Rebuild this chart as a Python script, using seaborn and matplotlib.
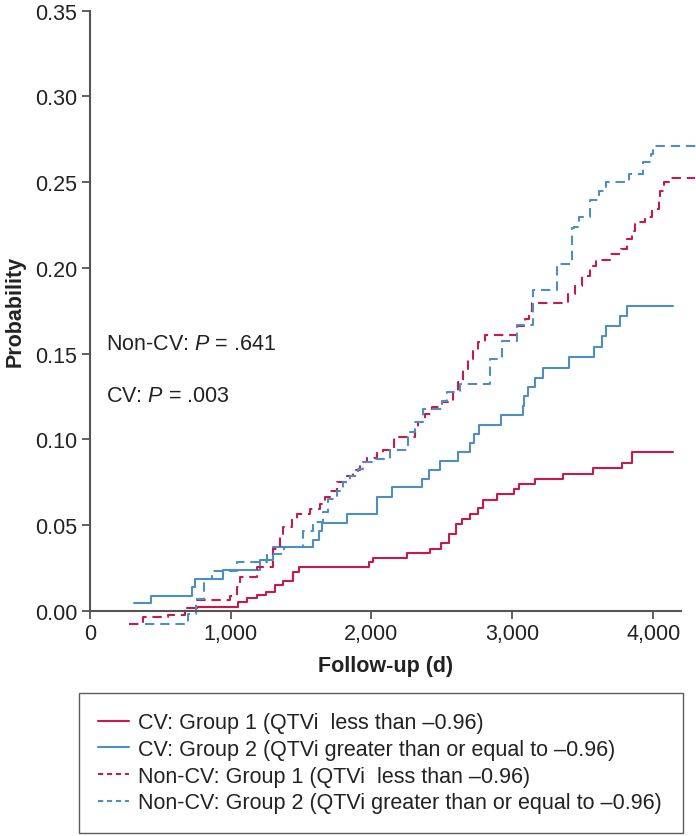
import numpy as np
import pandas as pd
import matplotlib
matplotlib.use("Agg")
import matplotlib.pyplot as plt
from matplotlib.lines import Line2D
from matplotlib.ticker import FuncFormatter
import seaborn as sns

# ---- data (step curves: day of change, cumulative probability) ----
cv1_days = [688, 764, 1055, 1114, 1185, 1251, 1315, 1370, 1445, 1488, 1985, 2009,
            2250, 2416, 2494, 2551, 2598, 2646, 2700, 2759, 2790, 2890, 3013, 3046,
            3162, 3358, 3569, 3780, 3849, 4144]
cv1_prob = [0.0014, 0.0024, 0.0049, 0.0072, 0.0092, 0.0107, 0.0150, 0.0175, 0.0228,
            0.0253, 0.0282, 0.0306, 0.0339, 0.0362, 0.0393, 0.0447, 0.0506, 0.0535,
            0.0564, 0.0597, 0.0648, 0.0681, 0.0710, 0.0737, 0.0768, 0.0798, 0.0831,
            0.0860, 0.0924, 0.0924]

cv2_days = [316, 435, 723, 747, 948, 1209, 1303, 1583, 1630, 1651, 1825, 2037, 2149,
            2357, 2409, 2489, 2613, 2700, 2731, 2766, 2918, 3074, 3084, 3110, 3164,
            3221, 3403, 3581, 3635, 3666, 3761, 3815, 4144]
cv2_prob = [0.0043, 0.0088, 0.0136, 0.0185, 0.0236, 0.0296, 0.0370, 0.0414, 0.0465,
            0.0514, 0.0564, 0.0665, 0.0720, 0.0768, 0.0823, 0.0875, 0.0928, 0.0978,
            0.1031, 0.1083, 0.1142, 0.1196, 0.1254, 0.1303, 0.1360, 0.1418, 0.1482,
            0.1540, 0.1604, 0.1661, 0.1721, 0.1780, 0.1780]

ncv1_days = [281, 380, 558, 676, 759, 996, 1043, 1067, 1185, 1300, 1351, 1375, 1434,
             1474, 1564, 1635, 1670, 1706, 1753, 1825, 1872, 1919, 1966, 2037, 2085,
             2161, 2310, 2333, 2381, 2428, 2499, 2582, 2617, 2653, 2688, 2719, 2759,
             2807, 3032, 3091, 3115, 3139, 3398, 3446, 3493, 3548, 3595, 3695, 3770,
             3817, 3849, 3872, 3943, 3991, 4038, 4050, 4078, 4109, 4300]
ncv1_prob = [-0.0078, -0.0039, -0.0023, 0.0014, 0.0062, 0.0088, 0.0137, 0.0198, 0.0253,
             0.0360, 0.0438, 0.0486, 0.0535, 0.0564, 0.0593, 0.0622, 0.0662, 0.0700,
             0.0749, 0.0788, 0.0823, 0.0866, 0.0890, 0.0920, 0.0940, 0.1011, 0.1060,
             0.1100, 0.1147, 0.1187, 0.1216, 0.1274, 0.1333, 0.1410, 0.1469, 0.1517,
             0.1566, 0.1608, 0.1663, 0.1702, 0.1750, 0.1793, 0.1848, 0.1896, 0.1955,
             0.2013, 0.2048, 0.2081, 0.2110, 0.2169, 0.2217, 0.2266, 0.2295, 0.2344,
             0.2402, 0.2450, 0.2500, 0.2523, 0.2523]

ncv2_days = [392, 700, 754, 813, 866, 1043, 1256, 1381, 1516, 1583, 1658, 1694, 1753,
             1800, 1848, 1907, 1943, 2013, 2132, 2262, 2310, 2364, 2499, 2535, 2629,
             2842, 2925, 3036, 3145, 3316, 3422, 3439, 3476, 3548, 3612, 3666, 3825,
             3931, 3984, 3998, 4310]
ncv2_prob = [-0.0078, -0.0020, 0.0068, 0.0185, 0.0233, 0.0282, 0.0331, 0.0370, 0.0467,
             0.0516, 0.0574, 0.0652, 0.0700, 0.0749, 0.0788, 0.0827, 0.0866, 0.0885,
             0.0937, 0.1040, 0.1100, 0.1177, 0.1225, 0.1274, 0.1323, 0.1469, 0.1572,
             0.1669, 0.1870, 0.2023, 0.2231, 0.2237, 0.2295, 0.2396, 0.2450, 0.2503,
             0.2548, 0.2616, 0.2665, 0.2713, 0.2713]

labels = ["CV: Group 1 (QTVi  less than \u20130.96)",
          "CV: Group 2 (QTVi greater than or equal to \u20130.96)",
          "Non-CV: Group 1 (QTVi  less than \u20130.96)",
          "Non-CV: Group 2 (QTVi greater than or equal to \u20130.96)"]
x_ticks = [0, 1000, 2000, 3000, 4000]
y_ticks = [0.00, 0.05, 0.10, 0.15, 0.20, 0.25, 0.30, 0.35]

RED = "#c8194f"
BLUE = "#4d8fc1"
FS = 15.5

frames = []
for lab, d, p in [(labels[0], cv1_days, cv1_prob),
                  (labels[1], cv2_days, cv2_prob),
                  (labels[2], ncv1_days, ncv1_prob),
                  (labels[3], ncv2_days, ncv2_prob)]:
    frames.append(pd.DataFrame({"day": d, "prob": p, "series": lab}))
df = pd.concat(frames, ignore_index=True)

sns.set_style("white")
plt.rcParams["font.family"] = ["Liberation Sans", "DejaVu Sans"]
plt.rcParams["mathtext.fontset"] = "custom"
plt.rcParams["mathtext.rm"] = "Liberation Sans"
plt.rcParams["mathtext.it"] = "Liberation Sans:italic"

fig = plt.figure(figsize=(6.96, 8.37), dpi=100)
ax = fig.add_axes([0.129, 0.2692, 0.850, 0.7168])

palette = {labels[0]: RED, labels[1]: BLUE, labels[2]: RED, labels[3]: BLUE}
DASH = (4.5, 2.8)
dashes = {labels[0]: "", labels[1]: "", labels[2]: DASH, labels[3]: DASH}
sns.lineplot(data=df, x="day", y="prob", hue="series", style="series",
             palette=palette, dashes=dashes, estimator=None, sort=False,
             drawstyle="steps-post", linewidth=1.5, legend=False, ax=ax)
for ln in ax.lines:
    ln.set_clip_on(False)

ax.set_xlim(0, 4200)
ax.set_ylim(0, 0.35)
ax.set_xticks(x_ticks)
ax.set_yticks(y_ticks)
ax.xaxis.set_major_formatter(FuncFormatter(lambda v, _: f"{int(v):,}"))
ax.yaxis.set_major_formatter(FuncFormatter(lambda v, _: f"{v:.2f}"))
for s in ["top", "right"]:
    ax.spines[s].set_visible(False)
for s in ["left", "bottom"]:
    ax.spines[s].set_color("#555555")
    ax.spines[s].set_linewidth(1.5)
ax.tick_params(axis="both", direction="out", length=6, width=1.3, color="#555555",
               labelsize=FS, labelcolor="#222222", pad=3, bottom=True, left=True)
ax.set_xlabel("Follow-up (d)", fontsize=FS, fontweight="bold", labelpad=8, color="#222222")
ax.set_ylabel("Probability", fontsize=FS, fontweight="bold", labelpad=7, color="#222222")

ax.text(0.028, 0.446, "Non-CV: $\\mathit{P}$ = .641", transform=ax.transAxes,
        fontsize=FS, va="center", ha="left", color="#222222")
ax.text(0.028, 0.358, "CV: $\\mathit{P}$ = .003", transform=ax.transAxes,
        fontsize=FS, va="center", ha="left", color="#222222")

handles = [Line2D([], [], color=RED, lw=1.5),
           Line2D([], [], color=BLUE, lw=1.5),
           Line2D([], [], color=RED, lw=1.5, dashes=(2.5, 1.8)),
           Line2D([], [], color=BLUE, lw=1.5, dashes=(2.5, 1.8))]
leg = fig.legend(handles, labels, loc="upper left",
                 bbox_to_anchor=(79 / 696, 1 - 834 / 837, 604 / 696, 140 / 837),
                 mode="expand", fontsize=FS, frameon=True, fancybox=False,
                 handlelength=1.4, handletextpad=0.45, labelspacing=0.26,
                 borderpad=0.9, borderaxespad=0)
leg.get_frame().set_edgecolor("#333333")
leg.get_frame().set_linewidth(1.0)
for t in leg.get_texts():
    t.set_color("#222222")

fig.savefig("out.png", dpi=100)
